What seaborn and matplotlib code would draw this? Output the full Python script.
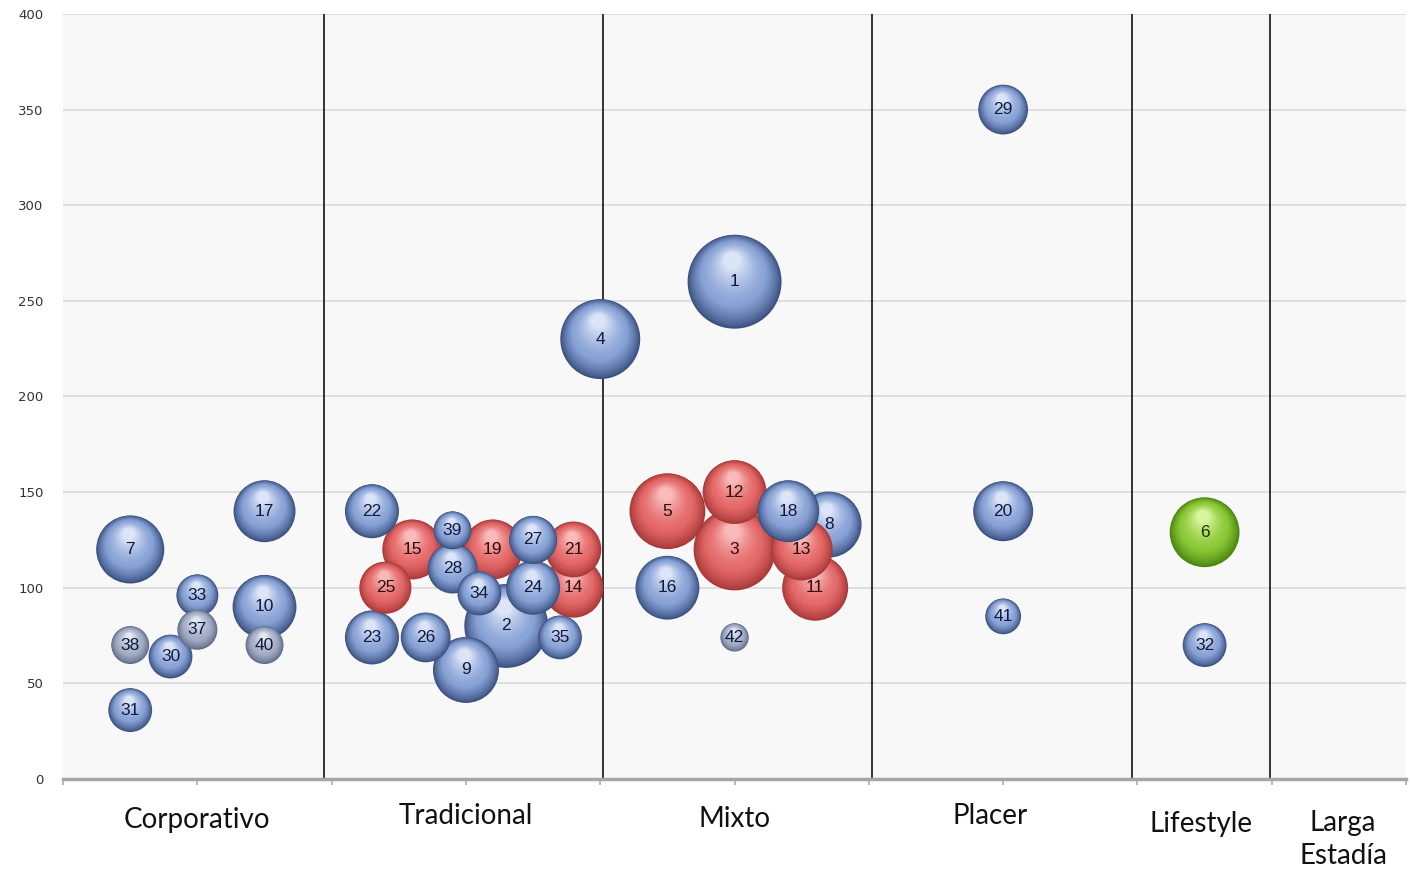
import numpy as np
import pandas as pd
import matplotlib
matplotlib.use("Agg")
import matplotlib.pyplot as plt
import matplotlib.transforms as mtransforms
from matplotlib.colors import to_rgb
import seaborn as sns

# datos de las burbujas (numero, posicion x, valor y, tamano, grupo de color)
numeros = [1, 2, 3, 4, 5, 6, 7, 8, 9, 10, 11, 12, 13, 14, 15, 16, 17, 18, 19, 20, 21,
           22, 23, 24, 25, 26, 27, 28, 29, 30, 31, 32, 33, 34, 35, 37, 38, 39, 40, 41, 42]
pos_x = [50, 33, 50, 40, 45, 85, 5, 57, 30, 15, 56, 50, 55, 38, 26, 45, 15, 54, 32, 70, 38,
         23, 23, 35, 24, 27, 35, 29, 70, 8, 5, 85, 10, 31, 37, 10, 5, 29, 15, 70, 50]
valor_y = [260, 80, 120, 230, 140, 129, 120, 133, 57, 90, 100, 150, 120, 100, 120, 100, 140, 140, 120, 140, 120,
           140, 74, 100, 100, 74, 125, 110, 350, 64, 36, 70, 96, 97, 74, 78, 70, 130, 70, 85, 74]
tamano = [221, 176, 168, 160, 144, 122, 116, 109, 109, 102, 109, 102, 96, 90, 90, 102, 96, 96, 90, 90, 78,
          73, 73, 73, 68, 62, 58, 62, 62, 48, 48, 48, 44, 48, 48, 40, 36, 36, 36, 32, 20]
grupo = ["azul", "azul", "rojo", "azul", "rojo", "verde", "azul", "azul", "azul", "azul", "rojo", "rojo",
         "rojo", "rojo", "rojo", "azul", "azul", "azul", "rojo", "azul", "rojo", "azul", "azul", "azul",
         "rojo", "azul", "azul", "azul", "azul", "azul", "azul", "azul", "azul", "azul", "azul", "gris",
         "gris", "azul", "gris", "azul", "gris"]

categorias = ["Corporativo", "Tradicional", "Mixto", "Placer", "Lifestyle", "Larga\nEstadía"]
cat_x = [10, 30, 50, 69, 84.7, 95.3]
cat_y = [-0.054, -0.049, -0.052, -0.049, -0.059, -0.079]
separadores = [19.4, 40.2, 60.2, 79.6, 89.9]

df = pd.DataFrame({"num": numeros, "x": pos_x, "y": valor_y, "tam": tamano, "grupo": grupo})
df = df.sort_values("tam", ascending=False).reset_index(drop=True)

paleta = {
    "azul": ("#3a5080", "#88a2d6", "#e2eafa"),
    "rojo": ("#a83838", "#e46868", "#fbc0c0"),
    "verde": ("#4a8410", "#8ac836", "#def8a4"),
    "gris": ("#606b88", "#a2adc5", "#e6eaf2"),
}
color_txt = {"azul": "#101a40", "rojo": "#300c0c", "verde": "#1a3406", "gris": "#101a40"}

sns.set_theme(style="white")
fig, ax = plt.subplots(figsize=(14.11, 8.72), dpi=100)
fig.subplots_adjust(left=0.0447, right=0.9965, top=0.984, bottom=0.1067)
ax.set_facecolor("#f8f8f8")

ESCALA = 20.7  # puntos^2 por unidad de tamano
n_capas = 32

def mezcla(c1, c2, t):
    a, b = np.array(to_rgb(c1)), np.array(to_rgb(c2))
    return tuple(a + (b - a) * min(max(t, 0), 1))

for i, fila in df.iterrows():
    z = 3 + i * 0.1
    borde, medio, luz = paleta[fila["grupo"]]
    s = fila["tam"] * ESCALA
    r_pt = np.sqrt(s) / 2
    sns.scatterplot(data=df.iloc[[i]], x="x", y="y", size="tam", sizes=(s, s), color=borde,
                    edgecolor="none", legend=False, ax=ax, zorder=z)
    for k in range(1, n_capas):
        f = 1 - k / n_capas * 0.85
        if f > 0.7:
            col = mezcla(borde, medio, ((1 - f) / 0.3) ** 0.8)
        else:
            col = mezcla(medio, luz, ((0.7 - f) / 0.55) ** 1.4)
        dy = (1 - f) * 0.55 * r_pt
        dx = -(1 - f) * 0.06 * r_pt
        tr = ax.transData + mtransforms.ScaledTranslation(dx / 72, dy / 72, fig.dpi_scale_trans)
        ax.scatter([fila["x"]], [fila["y"]], s=s * f * f, color=col, edgecolors="none",
                   transform=tr, zorder=z + 0.001 * k)
    ax.text(fila["x"], fila["y"], str(fila["num"]), ha="center", va="center",
            fontsize=12.5, color=color_txt[fila["grupo"]], zorder=z + 0.05,
            family="Liberation Sans")

for xs in separadores:
    ax.axvline(xs, color="black", lw=1.1, zorder=2)

ax.set_xlim(0, 100)
ax.set_ylim(0, 400)
ax.set_yticks(range(0, 401, 50))
ax.set_xticks(range(0, 101, 10))
ax.set_xticklabels([])
ax.yaxis.grid(True, color="#d9d9d9", lw=1.2)
ax.xaxis.grid(False)
ax.tick_params(axis="y", length=0, labelsize=9.5, colors="#333333", pad=14)
ax.tick_params(axis="x", length=4, color="#b0b0b0", direction="out", bottom=True)
for lado in ["top", "right", "left"]:
    ax.spines[lado].set_visible(False)
ax.spines["bottom"].set_color("#a6a6a6")
ax.spines["bottom"].set_linewidth(2.5)
ax.set_xlabel("")
ax.set_ylabel("")

tr_cat = mtransforms.blended_transform_factory(ax.transData, ax.transAxes)
for nombre, cx, cy in zip(categorias, cat_x, cat_y):
    ax.text(cx, cy, nombre, transform=tr_cat, ha="center", va="center", fontsize=20,
            color="#111111", family="Lato", linespacing=1.35)

fig.savefig("out.png", dpi=100, facecolor="white")
